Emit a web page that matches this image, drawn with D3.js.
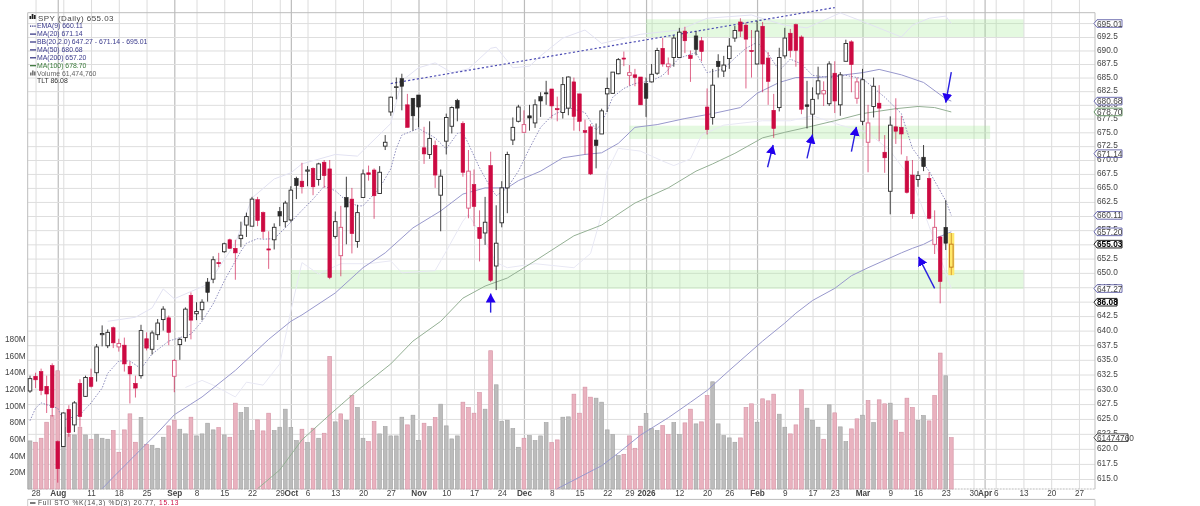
<!DOCTYPE html>
<html>
<head>
<meta charset="utf-8">
<script src="https://cdn.jsdelivr.net/npm/d3@7"></script>
<style>
  html, body { margin: 0; padding: 0; background: #fff; overflow: hidden; }
  svg { display: block; filter: blur(0.3px); }
  text { font-family: "Liberation Sans", Arial, sans-serif; }
</style>
</head>
<body>
<svg></svg>
<script>
// SPY daily candles, one entry per trading day starting Jul 25 2025
const opens = [629.7,632.2,633,630.5,634,621.2,620.4,626.6,624,631,628.8,632,632.8,639.3,637.4,640.5,637.2,637.5,633.9,631,632.3,638.6,636.8,639.3,641.9,642.2,632.2,637.6,638.8,646.1,642.9,643.6,648.4,648.9,651.8,653.7,655.8,654.3,656,658.4,658.2,662.9,660.6,654.2,655.8,660.8,659,659.3,666.7,666.2,668,668.5,666.5,669.6,668.4,656.4,653,663.3,663,655.5,663.3,667.7,668.2,664,672.5,678.7,683.2,684.8,680,681.2,681.8,672.2,671,672.6,663.7,673.4,676.1,680.8,676.6,661.4,665.6,658,657,669,651.2,658.8,665,673.6,677,675,678,676.7,681.5,682.2,682.9,679.3,678.6,679.4,684.2,682,675.3,676,673.6,674.7,682,682.1,685.7,688.6,685.4,685.5,685.1,683.9,684.2,685.8,690.4,687,688.7,688.7,693.6,689.1,692.7,691.8,679.6,677.7,688,686.2,688.5,692.3,695.3,694.7,690,687.5,694.5,688.6,679,679.5,689,693.2,694.8,692.5,680,678.3,682,682,680.2,685.8,680,688,691.6,681.2,677,673.2,679.7,680.3,671.4,664.4,676,675.9,669.8,667.3,666.5,670.5,666.7,655,656.3,658,651];
const highs = [632.3,632.8,633.5,632.3,634.4,621.4,626.1,627.3,628,631.7,632.3,633.5,637.7,640.9,640.2,640.7,638.6,638.8,634.7,632.3,641,639.7,640,642,644.2,642.6,635.1,638.8,644,646.6,644.9,645.4,649.1,652.9,653.5,655.3,656,655.8,659,660.6,663.4,663.4,660.8,657.3,658.7,661.6,662.7,665.3,667,669.5,668.9,668.7,669.5,670,670,660.8,661.8,667,665,662,668.3,669,668.5,668.9,674.5,681.5,685,685.7,682,681.2,681.8,676,677,673.5,668.3,678.4,679.7,681.1,677,671.8,668.3,661,663.4,671.5,661.9,666.2,671.5,677.7,680,679,680,681,682.3,684.4,682.9,681.5,685.1,685.2,685,682,677.3,676.5,676.6,679.3,685,686,688.6,689.8,687.3,686.6,685.1,685,687.5,690.5,692.3,688.7,692.8,694.2,694.4,690,693.6,692.5,683,686.6,689.3,689,692.3,694.6,696,695.2,693.8,695.5,695.3,689.7,682,690.5,694.2,694,695,692.8,684.4,683.2,687,684.3,688,688,686,692,691.9,685,686.6,680,685,683.6,674.5,677.9,681.2,678,670.7,670,668,672.7,667.8,661,656.5,662.8,657];
const lows = [629.4,630.2,629,626,625.4,614.4,620.3,622,622.8,623.7,628.7,630.3,631.3,637.3,637,637,636.4,633,627.6,628.6,631.8,636.6,635.9,638.4,640,637.5,629.5,635,638.1,638.5,641.8,641.8,645,648.2,651,653.5,654.2,648.8,654.5,656.3,658.2,658.2,656,650.7,654.1,658.2,658,659,663,664,665.3,663.7,665.4,665,648.9,656,649.4,655,653.4,654.4,663.3,666.3,659.5,664,671.8,678,681,679,675.9,675.3,675.9,669.3,670.2,665,657.3,671,674.8,677,667,659.6,658.2,652,654.9,648.4,647,658,660.5,672.7,676.8,675,675.3,675.8,677.8,680,677.5,677,677.5,678.1,675.3,675.2,671,667.3,668.5,674.7,678.7,682.1,685.6,687.1,683.5,683.4,680,677.8,684.1,685.5,687,685.5,687,688.7,689.5,684.2,689.1,688,674.6,676.4,685,685.1,686.6,691.6,692.5,683,685,687.4,682.3,680,674,678.8,688.5,688.7,687,678.3,675.7,674,681,679.8,679.8,678.5,678,688,682.3,680.2,676.3,667.8,677.7,673.4,667.7,660.3,672.9,671,664,659.5,665.2,668,659.4,653.3,644.7,654,649.6];
const closes = [631.8,631.6,629.8,629.2,626.9,616.7,626,622.7,627.7,625.4,632,630.5,637.2,639.5,639.7,637.9,637.8,634.3,632.6,630.2,640,637,639.6,641.3,643.7,639.7,634.9,638.5,643.7,641.8,643.3,644.9,646.6,652.3,651.6,655.1,654.3,653.5,656.6,659.9,663,659.2,657.3,654,658,660,662.3,664.6,665.4,665.2,668.2,665.2,669.3,667.2,649.2,659,658,661.6,656.9,660.6,667.5,667.4,663.6,667.8,673.2,681.4,683.3,683.4,675.9,678,679.6,671.1,673.9,667.3,667.1,677.7,679.5,679.4,667.8,668,661.7,656,658.9,648.7,655.2,665,671,675.9,679.6,676.4,677.6,680,680.7,682,679.8,679.1,683.7,685.1,677.9,677,675,667.5,672.6,678.9,683,686,688.3,688.4,685.9,685,680,681.2,685.6,690,687.5,687.5,692.3,693.4,691.8,688.5,690.2,689.8,675.5,683.6,687,687.3,690.8,693.7,693.6,692.1,689.8,693.6,687.5,684.3,675.7,688.7,692.3,690,690,679.2,679.7,681,684.4,682.6,687.5,680.7,685.5,691.3,687.4,684.2,684.6,676.7,683.4,679.4,670.4,676.3,675.2,674.7,664.2,660.4,667.2,668.8,659.6,658,648.5,655.2,655.03];
const volumes = [57.6,56,60.8,80,88,141.6,74,65.6,64.8,74,64.8,59.6,65.6,60.8,59.6,70,44,70.8,90,56,85.6,53.6,52.4,48.8,62,75.6,82.4,71.6,66,86,63.6,66,78.8,70.8,73.6,64.8,62,102.8,91.6,97.6,70,82.8,69.6,90.8,70,74,95.6,73.6,58,71.6,55.6,72.8,60.8,66.8,158.8,80.4,90,82.4,112,97.6,60.8,56.8,80.8,66,74.8,63.6,63.6,86,76.8,88.4,58,78.8,74.8,85.6,101.6,75.6,60,63.6,104,97.6,90.8,115.6,95.6,165.6,124.8,81.2,82.4,72.4,50,60.8,64,58,63.6,79.6,55.6,58.8,86,86.4,113.6,90.8,122,110,108.8,104,70.8,65.2,40,41.6,63.6,48.8,75.2,90.4,72.4,70,76,65.2,79.6,65.2,79.2,95.6,78,80.4,112,128.4,78,64,61.2,56,61.2,97.6,102,80,108,105.6,113.6,89.6,74,66,76.8,118.8,96.8,82.4,74,59.6,100.8,91.2,74.4,56.8,72,84,88.4,106,79.6,106.8,102,102.8,82,68,108.8,97.6,82,88,81.6,112,162.8,135.6,61.47];
// 1 = closed below the prior close (red candle, pink volume)
const down = [0,1,1,1,1,1,0,1,0,1,0,1,0,0,0,1,1,1,1,1,0,1,0,0,0,1,1,0,0,1,0,0,0,0,1,0,1,1,0,0,0,1,1,1,0,0,0,0,0,1,0,1,0,1,1,0,1,0,1,0,0,1,1,0,0,0,0,0,1,0,0,1,0,1,0,0,0,0,1,1,1,1,0,1,0,0,0,0,0,1,0,0,0,0,1,1,0,0,1,1,1,1,0,0,0,0,0,1,1,1,1,0,0,0,1,1,0,0,1,1,0,1,1,0,0,0,0,0,1,1,1,0,1,1,1,0,0,1,1,1,0,0,0,1,0,1,0,0,1,1,0,1,0,1,1,0,1,1,1,1,0,0,1,1,1,0,1];

// Overlays, read at the day index given in the matching *Days list
const ema9Days = [0,1,2,5,6,9,11,13,14,16,18,20,22,25,29,31,33,35,38,39,41,42,44,46,49,51,53,55,57,59,60,63,65,66,67,70,73,75,77,78,79,81,83,84,86,88,90,92,94,97,100,102,103,105,107,109,112,114,117,120,122,125,127,129,131,133,135,137,139,141,144,147,150,154,157,159,162,165,166];
const ema9 = [624.7,626.8,627.7,626.8,624.8,625.7,627.7,630.2,632.7,634.8,634.8,633.5,636,638.2,639.4,641.6,644.6,648.6,653.8,655.2,656,655.9,656,657.9,661,663,665.3,664.5,662.7,661.8,661.8,665,668.4,672.1,674.5,675.7,674,672,674.8,675,672.9,668.6,665,663.6,665,668,672.1,675.9,678,679.5,678.6,675.4,676.6,681.4,683,683.9,684.4,685.4,688.6,689.6,685.9,686.6,688.6,690.4,691.5,689.4,686.3,688.4,687.5,685.4,685,685.4,684.8,681.4,678.4,672.1,668,662.7,660.11];
const ma50Days = [13,15,19,23,26,31,37,43,47,49,55,60,64,69,74,78,82,86,88,92,96,100,103,106,109,113,118,123,128,131,135,138,142,146,150,153,157,161,165,166];
const ma50 = [613.4,615.3,619,622.7,625.7,628.7,633.2,638.5,641.6,642.7,646.5,650.9,653.5,657.9,660.9,663.9,665,665,666.3,668,670.4,671,671.3,673,675.9,676.4,677.5,678.4,679.5,682.1,684.1,685,685,685.4,685.9,686.5,685.5,684.1,681.1,680.68];
const ma200Days = [95,103,106,110,115,119,122,126,132,136,138,141,145,148,151,157,159,161,163,166];
const ma200 = [613.4,617.2,619.3,622.3,625.2,627.8,629.8,633.2,638.2,641.3,643,645.2,647.3,649.5,650.9,653.5,654.3,655,656,657.2];
const ma100Days = [41,45,49,54,59,65,69,74,78,82,86,91,98,103,109,115,120,123,127,132,136,140,145,150,156,160,163,166];
const ma100 = [613.4,616.5,621.5,625.7,629.8,634.3,638.2,641.6,645.6,647.7,649.1,652.1,656.5,658.4,662.3,665,668,669.3,671.2,674,675,675.9,677.1,678.4,679.3,679.7,679.5,678.7];
const bbUpperDays = [14,19,22,24,26,32,37,40,44,47,49,55,59,65,67,70,73,76,79,83,84,87,90,92,96,100,103,110,117,122,130,136,140,146,150,157,159,162,165,166];
const bbUpper = [641.6,642.3,643.9,647.2,645.5,648,655.2,663.2,666.6,667.7,669.3,671,670.7,676.6,684.4,686.8,687.7,685.9,686.6,690.4,690.6,686.8,687.1,689,692.3,693.8,691.3,693,693.8,696,696.6,694.7,694.2,697,695.4,692.5,694.7,696,696.4,695.01];
const bbLowerDays = [28,31,33,37,39,42,45,47,49,52,56,61,65,67,73,75,78,79,82,84,86,91,98,101,103,104,106,110,114,116,119,121,125,132,137,141,146,151,155,159,162,166];
const bbLower = [630.3,631.5,630.7,628.7,631.2,630.7,634.3,643.4,651.8,649.8,651.6,651.6,652.1,650,650.4,653.8,659.1,660.3,655.5,651.8,650.9,651.6,650.9,653.4,660.3,668,672.1,671.6,669.8,669,670.2,674.5,676.3,677.1,677.1,678,676.3,675,671.6,666.3,658.2,647.27];

// Drawn annotations: support/resistance bands, trend line and arrows
const zoneStart = [47,111,108];
const zoneEnd = [179,179,173];
const zoneHigh = [650.5,695.8,676.2];
const zoneLow = [647.2,692.5,673.8];
const trendDays = [65,145];
const trendPrices = [683.9,698];
const arrowFromDay = [83,132.9,140,148,166,163];
const arrowFromPrice = [643.1,668.7,670.3,671.5,686,647.3];
const arrowToDay = [83,133.9,141,148.9,165,160.1];
const arrowToPrice = [646.4,672.7,674.6,676,680.4,652.8];

// Axes
const tickDays = [1,5,6,11,16,21,26,30,35,40,45,47,50,55,60,65,70,75,80,85,89,94,99,104,108,111,112,117,122,126,131,136,141,145,150,155,160,165,170,172,174,179,184,189];
const tickLabels = ["28","Aug","","11","18","25","Sep","8","15","22","29","Oct","6","13","20","27","Nov","10","17","24","Dec","8","15","22","29","2026","","12","20","26","Feb","9","17","23","Mar","9","16","23","30","Apr","6","13","20","27"];
const monthLabels = ["Aug","Sep","Oct","Nov","Dec","2026","Feb","Mar","Apr"];
const priceTicks = [692.5,690,687.5,685,682.5,680,677.5,675,672.5,670,667.5,665,662.5,660,657.5,655,652.5,650,647.5,645,642.5,640,637.5,635,632.5,630,627.5,625,622.5,620,617.5,615];
const extraGridPrices = [695];
const volumeTicks = [20,40,60,80,100,120,140,160,180];

// Value flags on the right edge
const tagPrices = [695.01,680.68,678.7,671.14,660.11,657.2,647.27];
const tagColors = ["#4a4a9c","#4a4a9c","#3f7a3f","#4a4a9c","#4a4a9c","#4a4a9c","#4a4a9c"];
const lastPrice = 655.03;
const tltValue = "86.08";
const tltTagPrice = 644.9;
const lastVolume = 61.47476;

const legendNames = ["EMA(9) 660.11","MA(20) 671.14","BB(20,2.0) 647.27 - 671.14 - 695.01","MA(50) 680.68","MA(200) 657.20","MA(100) 678.70","Volume 61,474,760","TLT 86.08"];
const legendColors = ["#3a3a8c","#3a3a8c","#3a3a8c","#3a3a8c","#3a3a8c","#3a7a3a","#666","#333"];

const w = 1200;
const h = 506;
const plotLeft = 27.7;
const plotRight = 1095;
const plotTop = 12.7;
const plotBottom = 489;

const svg = d3.select("svg").attr("width", w).attr("height", h);

const xScale = d3.scaleLinear().domain([0, 166]).range([30, 951.3]);
const yScale = d3.scaleLog().domain([615, 692.5]).range([479, 37]);
const volScale = d3.scaleLinear().domain([0, 180]).range([plotBottom, 338.7]);

// Grid lines come from the axes with long ticks
const xAxis = d3.axisBottom(xScale)
  .tickValues(tickDays)
  .tickFormat((d, i) => tickLabels[i])
  .tickSize(-plotBottom)
  .tickPadding(1.5);
const xG = svg.append("g").attr("transform", "translate(0," + plotBottom + ")").call(xAxis);
xG.select(".domain").remove();
xG.selectAll("line")
  .attr("stroke", (d, i) => monthLabels.includes(tickLabels[i]) ? "#bcbcbc" : "#dcdcdc")
  .attr("stroke-width", (d, i) => monthLabels.includes(tickLabels[i]) ? 1.2 : 1);
xG.selectAll("text")
  .attr("fill", "#444")
  .style("font-size", "8.2px")
  .style("font-weight", (d, i) => monthLabels.includes(tickLabels[i]) ? "bold" : "normal");

const yAxis = d3.axisRight(yScale)
  .tickValues(priceTicks)
  .tickFormat(d3.format(".1f"))
  .tickSize(-(plotRight - plotLeft))
  .tickPadding(2);
const yG = svg.append("g").attr("transform", "translate(" + plotRight + ",0)").call(yAxis);
yG.select(".domain").remove();
yG.selectAll("line").attr("stroke", "#dedede");
yG.selectAll("text").attr("fill", "#444").attr("dy", "0.22em").style("font-size", "8.3px");

svg.selectAll(".extra-grid")
  .data(extraGridPrices)
  .enter()
  .append("line")
  .attr("x1", plotLeft).attr("x2", plotRight)
  .attr("y1", d => yScale(d)).attr("y2", d => yScale(d))
  .attr("stroke", "#dedede");

const volAxis = d3.axisLeft(volScale)
  .tickValues(volumeTicks)
  .tickFormat(d => d + "M")
  .tickSize(0)
  .tickPadding(2);
const volG = svg.append("g").attr("transform", "translate(" + plotLeft + ",0)").call(volAxis);
volG.select(".domain").remove();
volG.selectAll("text").attr("fill", "#444").style("font-size", "8.3px");

// Frame
svg.append("path")
  .attr("d", "M" + plotLeft + "," + plotBottom + "V" + plotTop + "H" + plotRight + "V" + plotBottom)
  .attr("fill", "none").attr("stroke", "#bdbdbd").attr("stroke-width", 1);
svg.append("line")
  .attr("x1", plotLeft).attr("x2", plotRight).attr("y1", plotBottom).attr("y2", plotBottom)
  .attr("stroke", "#bbb").attr("stroke-dasharray", "2,1");
// Next panel starts right at the bottom of the picture
svg.append("line")
  .attr("x1", plotLeft).attr("x2", plotRight).attr("y1", 499.4).attr("y2", 499.4)
  .attr("stroke", "#bbb");
svg.append("path")
  .attr("d", "M" + plotLeft + ",506V499.4M" + plotRight + ",506V499.4")
  .attr("stroke", "#ccc");

// Green bands
svg.selectAll(".zone")
  .data(zoneStart)
  .enter()
  .append("rect")
  .attr("x", d => xScale(d))
  .attr("width", (d, i) => xScale(zoneEnd[i]) - xScale(d))
  .attr("y", (d, i) => yScale(zoneHigh[i]))
  .attr("height", (d, i) => yScale(zoneLow[i]) - yScale(zoneHigh[i]))
  .attr("fill", "#9fe88f")
  .attr("fill-opacity", 0.28);

// Volume bars
svg.selectAll(".vol")
  .data(volumes)
  .enter()
  .append("rect")
  .attr("x", (d, i) => xScale(i) - 1.9)
  .attr("width", 3.8)
  .attr("y", d => volScale(d))
  .attr("height", d => plotBottom - volScale(d))
  .attr("fill", (d, i) => down[i] ? "#e9b2bf" : "#bcbcbc")
  .attr("stroke", (d, i) => down[i] ? "#d492a4" : "#a2a2a2")
  .attr("stroke-width", 0.6);

// Moving averages and bands
const drawLine = (days, values, color, width, dash) => {
  const line = d3.line()
    .x((d, i) => xScale(days[i]))
    .y(d => yScale(d));
  svg.append("path")
    .datum(values)
    .attr("d", line)
    .attr("fill", "none")
    .attr("stroke", color)
    .attr("stroke-width", width)
    .attr("stroke-dasharray", dash);
};
drawLine(bbUpperDays, bbUpper, "#e2e2f2", 1, null);
drawLine(bbLowerDays, bbLower, "#e8e8f4", 1, null);
drawLine(ma200Days, ma200, "#9898cc", 1, null);
drawLine(ma100Days, ma100, "#94b094", 1, null);
drawLine(ma50Days, ma50, "#9898cc", 1, null);
drawLine(ema9Days, ema9, "#8c8cbc", 1, "1.5,1.5");
drawLine(trendDays, trendPrices, "#4c4cb4", 1.2, "2.2,2.2");

// Yellow highlight behind the latest bar
const lastIdx = closes.length - 1;
svg.append("rect")
  .attr("x", xScale(lastIdx) - 3)
  .attr("width", 6)
  .attr("y", yScale(highs[lastIdx]))
  .attr("height", yScale(lows[lastIdx]) - yScale(highs[lastIdx]))
  .attr("fill", "#ffe96b");

// Candles
const upColor = "#2a2a2a";
const downColor = "#cc0a42";
const candleColor = i => i === lastIdx ? "#c0761a" : (down[i] ? downColor : upColor);

svg.selectAll(".wick")
  .data(closes)
  .enter()
  .append("line")
  .attr("x1", (d, i) => xScale(i))
  .attr("x2", (d, i) => xScale(i))
  .attr("y1", (d, i) => yScale(highs[i]))
  .attr("y2", (d, i) => yScale(lows[i]))
  .attr("stroke", (d, i) => candleColor(i))
  .attr("stroke-opacity", (d, i) => down[i] ? 0.7 : 1)
  .attr("stroke-width", 0.9);

svg.selectAll(".body")
  .data(closes)
  .enter()
  .append("rect")
  .attr("x", (d, i) => xScale(i) - 1.8)
  .attr("width", 3.6)
  .attr("y", (d, i) => yScale(Math.max(opens[i], d)))
  .attr("height", (d, i) => Math.max(0.6, Math.abs(yScale(opens[i]) - yScale(d))))
  .attr("fill", (d, i) => d > opens[i] ? (i === lastIdx ? "#ffe96b" : "#fff") : candleColor(i))
  .attr("stroke", (d, i) => d > opens[i] && down[i] && i !== lastIdx ? "#d8557c" : candleColor(i))
  .attr("stroke-width", (d, i) => d > opens[i] ? 0.9 : 0.6);

// Arrows
svg.append("defs").append("marker")
  .attr("id", "head")
  .attr("markerUnits", "userSpaceOnUse")
  .attr("markerWidth", 10).attr("markerHeight", 10)
  .attr("refX", 9).attr("refY", 5)
  .attr("orient", "auto")
  .append("path")
  .attr("d", "M0,0L9,5L0,10Z")
  .attr("fill", "#2200ee");

svg.selectAll(".arrow")
  .data(arrowFromDay)
  .enter()
  .append("line")
  .attr("x1", d => xScale(d))
  .attr("y1", (d, i) => yScale(arrowFromPrice[i]))
  .attr("x2", (d, i) => xScale(arrowToDay[i]))
  .attr("y2", (d, i) => yScale(arrowToPrice[i]))
  .attr("stroke", "#2a20e0")
  .attr("stroke-width", 1.4)
  .attr("marker-end", "url(#head)");

// Flags on the price axis
const drawTag = (y, label, color, tagWidth, bold) => {
  const g = svg.append("g").attr("transform", "translate(" + (plotRight - 1) + "," + y + ")");
  g.append("path")
    .attr("d", "M0,0L3,-3.8H" + tagWidth + "V3.8H3Z")
    .attr("fill", "#fff")
    .attr("stroke", color)
    .attr("stroke-width", bold ? 1 : 0.8);
  g.append("text")
    .attr("x", 3)
    .attr("y", 3)
    .attr("fill", bold ? "#000" : "#444")
    .style("font-size", "8.3px")
    .style("font-weight", bold ? "bold" : "normal")
    .text(label);
};
tagPrices.forEach((d, i) => drawTag(yScale(d), d3.format(".2f")(d), tagColors[i], 28, false));
drawTag(yScale(lastPrice), d3.format(".2f")(lastPrice), "#222", 28, true);
drawTag(yScale(tltTagPrice), tltValue, "#222", 23, true);
drawTag(volScale(lastVolume), d3.format("d")(lastVolume * 1e6), "#222", 34, false);

// Legend, top left
const legend = svg.append("g");
const iconBars = [3, 5, 4];
iconBars.forEach((d, i) => {
  legend.append("rect")
    .attr("x", 29.5 + i * 2.2).attr("y", 19 - d).attr("width", 1.7).attr("height", d)
    .attr("fill", "#222");
});
legend.append("text")
  .attr("x", 38).attr("y", 20.5)
  .attr("fill", "#444")
  .attr("letter-spacing", "0.45")
  .style("font-size", "8px")
  .text("SPY (Daily) 655.03");

legend.selectAll(".item")
  .data(legendNames)
  .enter()
  .append("text")
  .attr("x", 37)
  .attr("y", (d, i) => 28.4 + i * 7.9 - (i > 5 ? 0.3 : 0))
  .attr("fill", (d, i) => legendColors[i])
  .style("font-size", "6.9px")
  .text(d => d);

legend.selectAll(".swatch")
  .data(legendNames.slice(0, 6))
  .enter()
  .append("line")
  .attr("x1", 30).attr("x2", 36)
  .attr("y1", (d, i) => 26.2 + i * 7.9)
  .attr("y2", (d, i) => 26.2 + i * 7.9)
  .attr("stroke", (d, i) => i === 5 ? "#2f6f2f" : "#2a2a7c")
  .attr("stroke-width", 1.2)
  .attr("stroke-dasharray", (d, i) => i === 0 ? "1.2,1" : null);

iconBars.forEach((d, i) => {
  legend.append("rect")
    .attr("x", 30 + i * 2).attr("y", 75.5 - d).attr("width", 1.6).attr("height", d)
    .attr("fill", "#777");
});

// Stochastic panel title at the bottom edge of the picture
svg.append("line")
  .attr("x1", 30).attr("x2", 35.5).attr("y1", 503).attr("y2", 503)
  .attr("stroke", "#333").attr("stroke-width", 1.3);
const stoTitle = svg.append("text").attr("x", 38).attr("y", 504.8).style("font-size", "6.6px").attr("fill", "#444").attr("letter-spacing", "0.75");
stoTitle.append("tspan").text("Full STO %K(14,3) %D(3) 20.77, ");
stoTitle.append("tspan").attr("fill", "#cc0a42").text("15.13");
</script>
</body>
</html>
